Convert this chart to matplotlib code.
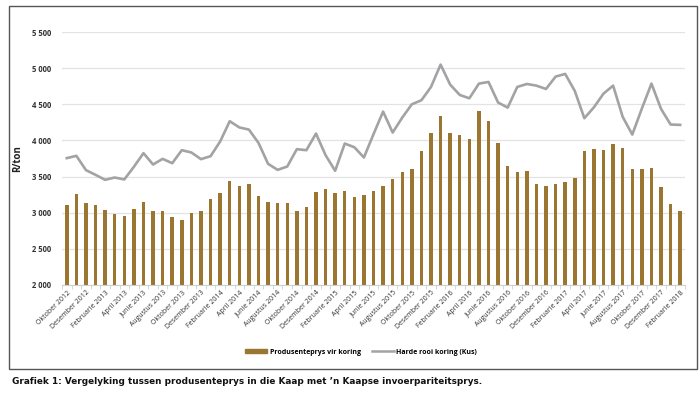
import matplotlib
matplotlib.use("Agg")
import matplotlib.pyplot as plt
from matplotlib.patches import Rectangle
from matplotlib.lines import Line2D
import numpy as np

plt.rcParams['font.family'] = ['Open Sans', 'DejaVu Sans']

month_names = ["Januarie", "Februarie", "Maart", "April", "Mei", "Junie", "Julie",
               "Augustus", "September", "Oktober", "November", "Desember"]
start_year, start_month = 2012, 10
n_months = 65
categories = [f"{month_names[(start_month - 1 + i) % 12]} {start_year + (start_month - 1 + i) // 12}"
              for i in range(n_months)]

produsenteprys = [3110, 3262, 3133, 3101, 3036, 2985, 2958, 3055, 3142, 3027,
                  3018, 2939, 2898, 2990, 3018, 3183, 3266, 3432, 3372, 3391,
                  3230, 3147, 3137, 3133, 3022, 3073, 3280, 3326, 3266, 3299,
                  3220, 3239, 3294, 3372, 3469, 3570, 3603, 3860, 4104, 4339,
                  4109, 4072, 4026, 4413, 4266, 3962, 3649, 3561, 3580, 3391,
                  3368, 3395, 3423, 3478, 3856, 3888, 3865, 3948, 3893, 3603,
                  3598, 3616, 3354, 3114, 3022]

harde_rooi = [3755, 3787, 3589, 3524, 3455, 3487, 3460, 3635, 3824, 3667,
              3745, 3685, 3865, 3833, 3741, 3782, 3985, 4266, 4180, 4150,
              3966, 3676, 3593, 3639, 3879, 3865, 4095, 3796, 3580, 3957,
              3906, 3764, 4086, 4399, 4109, 4316, 4500, 4556, 4740, 5049,
              4772, 4629, 4583, 4786, 4809, 4524, 4454, 4740, 4781, 4758,
              4712, 4883, 4920, 4685, 4307, 4459, 4648, 4758, 4326, 4081,
              4441, 4786, 4436, 4220, 4215]

series_names = ["Produsenteprys vir koring", "Harde rooi koring (Kus)"]
y_ticks = [2000, 2500, 3000, 3500, 4000, 4500, 5000, 5500]
y_ticklabels = ["2 000", "2 500", "3 000", "3 500", "4 000", "4 500", "5 000", "5 500"]
y_label = "R/ton"
caption = "Grafiek 1: Vergelyking tussen produsenteprys in die Kaap met \u2019n Kaapse invoerpariteitsprys."

bar_color = "#9a7630"
line_color = "#a3a3a6"

fig = plt.figure(figsize=(7, 3.94), dpi=100)
# outer frame
fig.patches.append(Rectangle((9 / 700, 1 - 369 / 394), 688 / 700, 363 / 394,
                             transform=fig.transFigure, fill=False,
                             edgecolor="#555555", linewidth=1.0))

ax = fig.add_axes([62 / 700, 1 - 285 / 394, 623 / 700, 253 / 394])
x = np.arange(n_months)
ax.bar(x, produsenteprys, width=0.36, color=bar_color, zorder=2, label=series_names[0])
ax.plot(x, harde_rooi, color=line_color, linewidth=1.9, zorder=3, label=series_names[1])

ax.set_ylim(2000, 5500)
ax.set_xlim(-0.5, n_months - 0.5)
ax.set_yticks(y_ticks)
ax.set_yticklabels(y_ticklabels, fontsize=5.5, color="#333333", fontweight="bold")
ax.yaxis.grid(True, color="#e3e3e3", linewidth=0.9, zorder=0)
ax.set_axisbelow(True)
for s in ["top", "right", "left"]:
    ax.spines[s].set_visible(False)
ax.spines["bottom"].set_color("#d0d0d0")
ax.tick_params(axis="y", length=0, pad=8)

ax.set_xticks(x[::2])
ax.set_xticklabels(categories[::2], rotation=45, ha="right", rotation_mode="anchor",
                   fontsize=5, color="#333333")
ax.set_xticks(np.arange(-0.5, n_months, 1), minor=True)
ax.tick_params(axis="x", which="major", length=0, pad=3)
ax.tick_params(axis="x", which="minor", length=3, color="#d0d0d0")

ax.set_ylabel(y_label, fontsize=7, fontweight="bold", color="#222222", labelpad=10)
ax.yaxis.set_label_coords(-0.062, 0.5)

handles = [Rectangle((0, 0), 1, 1, color=bar_color),
           Line2D([0], [0], color=line_color, linewidth=1.8)]
fig.legend(handles, series_names, loc="center", bbox_to_anchor=(361 / 700, 1 - 352 / 394),
           ncol=2, frameon=False, prop={"weight": "bold", "size": 5},
           handlelength=3.2, handleheight=0.5, columnspacing=1.6, handletextpad=0.3)

fig.text(12 / 700, 1 - 381 / 394, caption, fontsize=6.4, fontweight="bold",
         family=["Liberation Sans Narrow", "DejaVu Sans"], va="center", ha="left", color="#111111")

fig.savefig("out.png", dpi=100)
